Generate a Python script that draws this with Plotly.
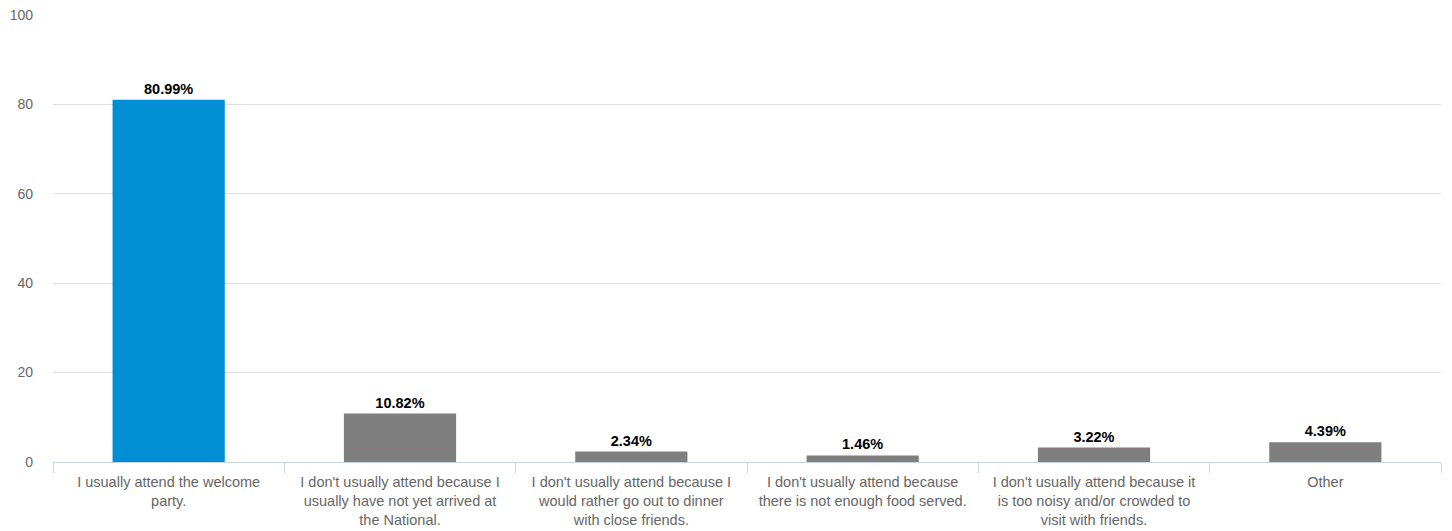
import plotly.graph_objects as go

categories = [
    "I usually attend the welcome<br>party.",
    "I don't usually attend because I<br>usually have not yet arrived at<br>the National.",
    "I don't usually attend because I<br>would rather go out to dinner<br>with close friends.",
    "I don't usually attend because<br>there is not enough food served.",
    "I don't usually attend because it<br>is too noisy and/or crowded to<br>visit with friends.",
    "Other",
]
values = [80.99, 10.82, 2.34, 1.46, 3.22, 4.39]
y_ticks = [0, 20, 40, 60, 80, 100]

bar_colors = ["#008fd5" if i == 0 else "#7f7f7f" for i in range(len(values))]

fig = go.Figure(
    go.Bar(
        x=categories,
        y=values,
        marker=dict(color=bar_colors, line=dict(width=0)),
        text=[f"{v:.2f}%" for v in values],
        textposition="outside",
        cliponaxis=False,
        textfont=dict(family="Liberation Sans, Arial, sans-serif", size=14.5, color="#000000", weight="bold"),
        hoverinfo="skip",
    )
)

fig.update_layout(
    width=1452,
    height=531,
    margin=dict(l=53, r=11, t=14, b=69, autoexpand=False),
    paper_bgcolor="white",
    plot_bgcolor="white",
    bargap=0.515,
    showlegend=False,
    font=dict(family="Liberation Sans, Arial, sans-serif", color="#666666"),
)

fig.update_xaxes(
    type="category",
    automargin=False,
    tickson="boundaries",
    ticks="outside",
    ticklen=10,
    tickcolor="#c9d5e3",
    tickwidth=1,
    showline=True,
    linecolor="#c9d5e3",
    linewidth=1,
    showgrid=False,
    ticklabelstandoff=7,
    tickfont=dict(size=14.5, color="#666666"),
    tickangle=0,
)

fig.update_yaxes(
    range=[0, 100.15],
    automargin=False,
    tickvals=y_ticks,
    showgrid=True,
    gridcolor="#e0e0e0",
    gridwidth=1,
    zeroline=False,
    showline=False,
    ticks="",
    ticklabelstandoff=19,
    tickfont=dict(size=14, color="#666666"),
)

fig.write_html(
    "out.html",
    config={"displayModeBar": False},
    post_script="document.body.style.margin='0';document.body.style.overflow='hidden';",
)
